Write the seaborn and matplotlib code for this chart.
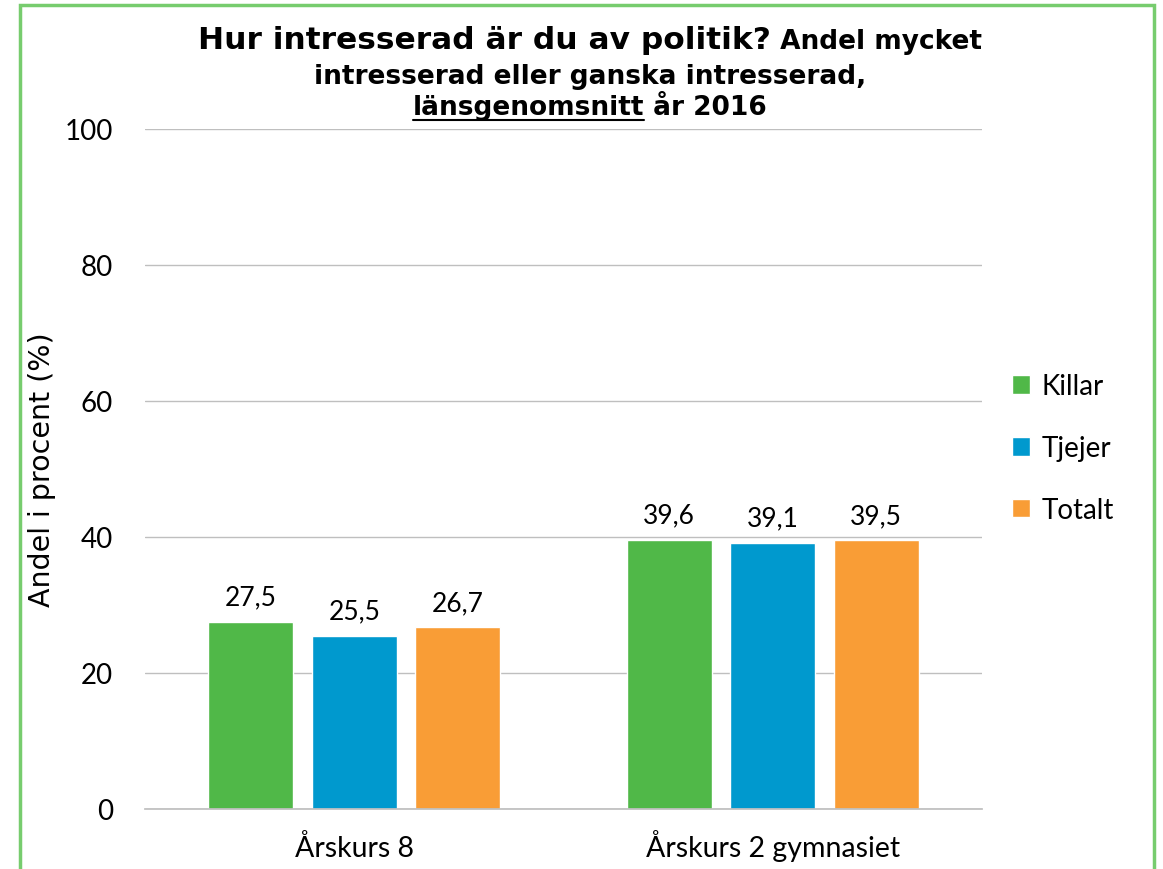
import numpy as np
import pandas as pd
import matplotlib
matplotlib.use('Agg')
import matplotlib.pyplot as plt
import seaborn as sns
from matplotlib.patches import Rectangle
from matplotlib.lines import Line2D

# data
grades = ['Årskurs 8', 'Årskurs 2 gymnasiet']
groups = ['Killar', 'Tjejer', 'Totalt']
killar = [27.5, 39.6]
tjejer = [25.5, 39.1]
totalt = [26.7, 39.5]
colors = ['#50B848', '#0099CE', '#F99D36']
yticks = [0, 20, 40, 60, 80, 100]

df = pd.DataFrame({'Årskurs': grades * 3,
                   'Grupp': [g for g in groups for _ in grades],
                   'Andel': killar + tjejer + totalt})

sns.set_theme(style='white')
plt.rcParams['font.family'] = ['Lato', 'DejaVu Sans']
for k in ['text.color', 'axes.labelcolor', 'xtick.color', 'ytick.color']:
    plt.rcParams[k] = 'black'
wide = ['DejaVu Sans']

W, H = 1163, 870
fig = plt.figure(figsize=(W / 100, H / 100), dpi=100)
ax = fig.add_axes([145 / W, 1 - 810 / H, 837 / W, 680 / H])

sns.barplot(data=df, x='Årskurs', y='Andel', hue='Grupp', palette=colors,
            width=0.742, gap=0.18, saturation=1, ax=ax)

for cont in ax.containers:
    labels = [f'{v:.1f}'.replace('.', ',') for v in cont.datavalues]
    ax.bar_label(cont, labels=labels, padding=9, fontsize=19, color='black')

ax.set_ylim(0, 100)
ax.set_yticks(yticks)
ax.set_xlim(-0.5, 1.5)
ax.yaxis.grid(True, color='#BFBFBF', lw=1)
ax.set_axisbelow(True)
for s in ['left', 'right', 'top']:
    ax.spines[s].set_visible(False)
ax.spines['bottom'].set_color('#BFBFBF')
ax.set_xticks([0, 1])
ax.set_xticklabels(grades, va='baseline')
ax.set_xticks([-0.5, 0.5, 1.5], minor=True)
ax.tick_params(axis='x', which='minor', length=10, color='#BFBFBF', width=1, direction='out')
ax.tick_params(axis='x', which='major', length=0, pad=34, labelsize=20.5)
ax.tick_params(axis='y', length=0, pad=23, labelsize=20)
ax.set_xlabel('')
ax.set_ylabel('')
fig.text(42 / W, 1 - 470 / H, 'Andel i procent (%)', rotation=90, ha='center', va='center',
         fontsize=20.5, family=wide)

ax.legend(loc='center left', bbox_to_anchor=(1012 / W, 1 - 449 / H), bbox_transform=fig.transFigure,
          frameon=False, fontsize=20, handlelength=0.65, handleheight=0.65, handletextpad=0.4,
          labelspacing=1.28, borderpad=0, borderaxespad=0)

# title, mixed sizes
renderer = fig.canvas.get_renderer()


def title_line(parts, y, cx=590 / W):
    objs = [fig.text(0, y, s, ha='left', va='baseline', fontsize=fs, fontweight='bold', family=wide)
            for s, fs in parts]
    ws = [o.get_window_extent(renderer).width / W for o in objs]
    x = cx - sum(ws) / 2
    for o, w in zip(objs, ws):
        o.set_x(x)
        x += w
    return objs


title_line([('Hur intresserad är du av politik?', 22.5), (' Andel mycket', 19)], 1 - 49 / H)
title_line([('intresserad eller ganska intresserad,', 19)], 1 - 84 / H)
l3 = title_line([('länsgenomsnitt', 19), (' år 2016', 19)], 1 - 115 / H)
bb = l3[0].get_window_extent(renderer)
fig.add_artist(Line2D([bb.x0 / W, bb.x1 / W], [1 - 121 / H] * 2, color='black', lw=1.5,
                      transform=fig.transFigure))

# green frame
fig.add_artist(Rectangle((20 / W, -0.05), (1154 - 20) / W, 1.05 - 6 / H, fill=False,
                         edgecolor='#77CC6E', lw=2.5, transform=fig.transFigure))

fig.savefig('out.png', dpi=100)
